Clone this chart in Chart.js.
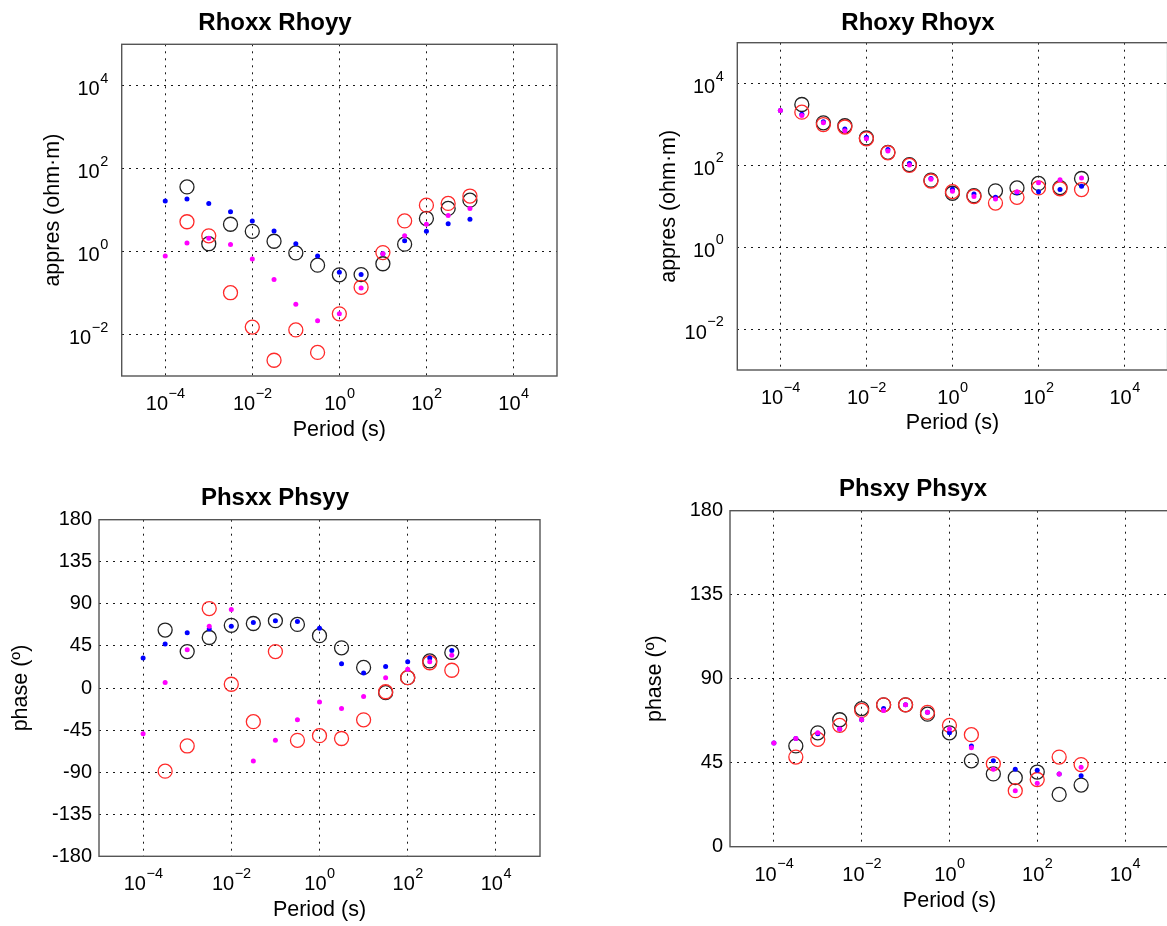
<!DOCTYPE html>
<html>
<head>
<meta charset="utf-8">
<title>Rho / Phase</title>
<script src="https://cdn.jsdelivr.net/npm/chart.js@4.4.1/dist/chart.umd.min.js"></script>
<style>
  html, body { margin: 0; padding: 0; background: #fff; }
  body { width: 1167px; height: 926px; overflow: hidden; position: relative; }
  canvas { position: absolute; }
</style>
</head>
<body>
<canvas id="c1" width="580" height="460" style="left:0px;top:0px"></canvas>
<canvas id="c2" width="620" height="460" style="left:600px;top:0px"></canvas>
<canvas id="c3" width="580" height="466" style="left:0px;top:460px"></canvas>
<canvas id="c4" width="620" height="466" style="left:600px;top:460px"></canvas>
<script>
// periods (s), half decade steps
const periods = [0.0001, 0.000316, 0.001, 0.00316, 0.01, 0.0316, 0.1, 0.316, 1, 3.16, 10, 31.6, 100, 316, 1000];

// tick values
const xTicks = [1e-4, 1e-2, 1, 1e2, 1e4];
const rhoTicks = [1e-2, 1, 1e2, 1e4];

// apparent resistivity, diagonal (ohm.m)
const rhoxx     = [null, 36.3, 1.55, 4.57, 3.09, 1.78, 0.93, 0.47, 0.275, 0.28, 0.51, 1.51, 6.3, 11.0, 17.4];   // black circles
const rhoyy     = [null, 5.25, 2.4, 0.102, 0.0151, 0.0024, 0.0129, 0.0037, 0.0316, 0.138, 0.95, 5.5, 13.2, 14.5, 21.9]; // red circles
const rhoxxCalc = [16.6, 18.6, 14.5, 9.1, 5.5, 3.16, 1.55, 0.78, 0.32, 0.28, 0.89, 1.82, 3.09, 4.68, 6.03];    // blue dots
const rhoyyCalc = [0.78, 1.62, 2.09, 1.48, 0.66, 0.214, 0.054, 0.0214, 0.0316, 0.132, 0.89, 2.4, 4.57, 7.4, 11.0]; // magenta dots

// apparent resistivity, off diagonal (ohm.m)
const rhoxy     = [null, 3090, 1100, 933, 468, 209, 105, 43.7, 20.9, 18.2, 24.0, 28.2, 36.3, 28.8, 47.9];
const rhoyx     = [null, 2000, 1000, 871, 447, 204, 100, 41.7, 22.9, 17.4, 12.0, 16.6, 28.2, 26.9, 25.7];
const rhoxyCalc = [2190, 1780, 1175, 776, 490, 245, 112, 47.9, 26.3, 20.0, 16.6, 21.4, 22.9, 25.7, 30.9];
const rhoyxCalc = [2190, 1660, 1100, 708, 447, 224, 102, 45.7, 23.4, 17.4, 15.1, 22.9, 38.0, 44.7, 49.0];

// phase, diagonal (deg)
const phsxx     = [null, 62, 39, 54, 67, 69, 72, 68, 56, 43, 22, -5, 11, 29, 38];
const phsyy     = [null, -89, -62, 85, 4, -36, 39, -56, -51, -54, -34, -4, 11, 27, 19];
const phsxxCalc = [32, 47, 59, 63, 66, 70, 72, 71, 64, 26, 16, 23, 28, 32, 40];
const phsyyCalc = [-49, 6, 41, 66, 84, -78, -56, -34, -15, -22, -9, 11, 20, 28, 35];

// phase, off diagonal (deg)
const phsxy     = [null, 54, 61, 68, 74, 76, 76, 71, 61, 46, 39, 37, 40, 28, 33];
const phsyx     = [null, 48, 57.5, 65, 73, 76, 76, 72, 65, 60, 44.5, 30, 36, 48, 44];
const phsxyCalc = [55.5, 58, 60.5, 63, 68, 74, 76, 72, 61, 54, 46, 41.5, 41, 39, 38];
const phsyxCalc = [55.5, 58, 61, 63, 68, 73, 76, 72, 63, 53, 41.5, 30, 34, 39, 42.5];

const FONT = '"Liberation Sans", Arial, Helvetica, sans-serif';
const GRID = 'rgba(0,0,0,0.9)';

function pts(ys) {
  return ys.map(function (y, i) { return {x: periods[i], y: y}; }).filter(function (p) { return p.y !== null; });
}

function sets(black, red, blue, magenta) {
  return [
    {data: pts(magenta), pointRadius: 2.5, pointBackgroundColor: '#ff00ff', pointBorderWidth: 0, order: 1},
    {data: pts(blue), pointRadius: 2.5, pointBackgroundColor: '#0000ff', pointBorderWidth: 0, order: 2},
    {data: pts(red), pointRadius: 7, pointBackgroundColor: 'rgba(0,0,0,0)', pointBorderColor: '#ff2a2a', pointBorderWidth: 1.3, order: 3},
    {data: pts(black), pointRadius: 7, pointBackgroundColor: 'rgba(0,0,0,0)', pointBorderColor: '#222', pointBorderWidth: 1.3, order: 4}
  ];
}

// 10^n labels with a raised exponent
const supTicks = {
  id: 'supTicks',
  afterDraw: function (chart) {
    const ctx = chart.ctx;
    Object.values(chart.scales).forEach(function (scale) {
      if (scale.type !== 'logarithmic') return;
      scale.ticks.forEach(function (t) {
        const e = Math.round(Math.log10(t.value));
        const exp = e < 0 ? '\u2212' + (-e) : String(e);
        ctx.save();
        ctx.fillStyle = '#000';
        ctx.textAlign = 'left';
        ctx.textBaseline = 'alphabetic';
        ctx.font = '20px ' + FONT;
        const bw = ctx.measureText('10').width;
        ctx.font = '14.5px ' + FONT;
        const ew = ctx.measureText(exp).width;
        const p = scale.getPixelForValue(t.value);
        let x, y;
        if (scale.isHorizontal()) {
          x = p - (bw + ew) / 2;
          y = scale.top + 34;
        } else {
          x = scale.right - 14 - bw - ew;
          y = p + 9.5;
        }
        ctx.font = '20px ' + FONT;
        ctx.fillText('10', x, y);
        ctx.font = '14.5px ' + FONT;
        ctx.fillText(exp, x + bw + 0.5, y - 12.5);
        ctx.restore();
      });
    });
  }
};

// box around the axes
const frame = {
  id: 'frame',
  afterDraw: function (chart) {
    const a = chart.chartArea, ctx = chart.ctx;
    ctx.save();
    ctx.strokeStyle = '#555';
    ctx.lineWidth = 1.4;
    ctx.strokeRect(a.left, a.top, a.right - a.left, a.bottom - a.top);
    ctx.restore();
  }
};

const panelTitle = {
  id: 'panelTitle',
  afterDraw: function (chart, args, opts) {
    const ctx = chart.ctx;
    ctx.save();
    ctx.fillStyle = '#000';
    ctx.font = 'bold 24px ' + FONT;
    ctx.textAlign = 'center';
    ctx.textBaseline = 'alphabetic';
    ctx.fillText(opts.text, opts.x, opts.y);
    ctx.restore();
  }
};

function makePanel(id, o) {
  const yScale = o.log ? {
    type: 'logarithmic', min: 1e-3, max: 1e5,
    afterBuildTicks: function (s) { s.ticks = rhoTicks.map(function (v) { return {value: v}; }); },
    ticks: {display: false}
  } : {
    type: 'linear', min: o.ymin, max: 180,
    ticks: {stepSize: 45, color: '#000', padding: 7, font: {family: FONT, size: 20}}
  };
  yScale.afterFit = function (s) { s.width = o.left; };
  yScale.grid = {color: GRID, drawTicks: false};
  yScale.border = {display: false, dash: [2, 5]};
  yScale.title = {display: true, text: o.ylabel, color: '#000', font: {family: FONT, size: 21.5}, padding: {top: o.ytPad, bottom: 0}};

  new Chart(document.getElementById(id), {
    type: 'scatter',
    data: {datasets: sets(o.black, o.red, o.blue, o.magenta)},
    options: {
      responsive: false,
      animation: false,
      devicePixelRatio: 1,
      events: [],
      layout: {padding: {left: 0, top: o.top, right: o.right, bottom: 0}},
      plugins: {
        legend: {display: false},
        tooltip: {enabled: false},
        panelTitle: {text: o.title, x: o.tx, y: o.ty}
      },
      scales: {
        x: {
          type: 'logarithmic', min: 1e-5, max: 1e5,
          afterBuildTicks: function (s) { s.ticks = xTicks.map(function (v) { return {value: v}; }); },
          afterFit: function (s) { s.height = o.bottom; },
          ticks: {display: false},
          grid: {color: GRID, drawTicks: false},
          border: {display: false, dash: [2, 5]},
          title: {display: true, text: 'Period (s)', color: '#000', font: {family: FONT, size: 21.5}, padding: {top: 0, bottom: o.xtPad}}
        },
        y: yScale
      }
    },
    plugins: [supTicks, frame, panelTitle]
  });
}

makePanel('c1', {title: 'Rhoxx Rhoyy', tx: 275, ty: 30, log: true, ylabel: 'appres (ohm\u00b7m)',
  left: 121.7, top: 44.3, right: 23, bottom: 84, ytPad: 39.7, xtPad: 17.1,
  black: rhoxx, red: rhoyy, blue: rhoxxCalc, magenta: rhoyyCalc});

makePanel('c2', {title: 'Rhoxy Rhoyx', tx: 318, ty: 29.5, log: true, ylabel: 'appres (ohm\u00b7m)',
  left: 137.3, top: 42.7, right: 52.4, bottom: 90, ytPad: 56.1, xtPad: 24.1,
  black: rhoxy, red: rhoyx, blue: rhoxyCalc, magenta: rhoyxCalc});

makePanel('c3', {title: 'Phsxx Phsyy', tx: 275, ty: 45, log: false, ymin: -180, ylabel: 'phase (\u00ba)',
  left: 99, top: 59.7, right: 40, bottom: 69.7, ytPad: 8.1, xtPad: 3.1,
  black: phsxx, red: phsyy, blue: phsxxCalc, magenta: phsyyCalc});

makePanel('c4', {title: 'Phsxy Phsyx', tx: 313, ty: 36, log: false, ymin: 0, ylabel: 'phase (\u00ba)',
  left: 130, top: 50.7, right: 51.1, bottom: 79.3, ytPad: 42.1, xtPad: 12.4,
  black: phsxy, red: phsyx, blue: phsxyCalc, magenta: phsyxCalc});
</script>
</body>
</html>
